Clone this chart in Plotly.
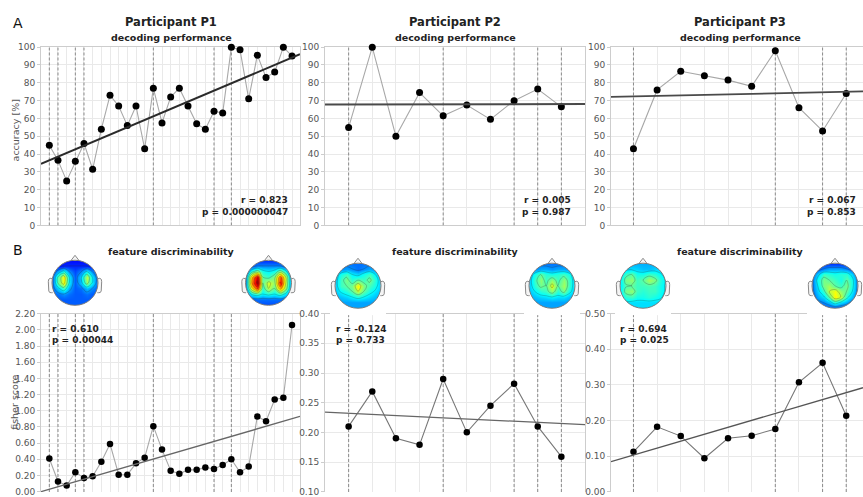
import numpy as np
import plotly.graph_objects as go

W, H = 863, 497
FONT = "DejaVu Sans"

# ---------------- data ----------------
p1_accuracy = [45, 36.5, 25, 36, 46, 31.5, 54, 73, 67, 56, 67, 43, 77, 57.5, 72,
               77, 67, 57, 54, 64, 63, 100, 98.5, 71, 95.5, 83, 86, 100, 95]
p2_accuracy = [55, 100, 50, 74.5, 61.5, 67.5, 59.5, 70, 76.5, 66.5]
p3_accuracy = [43, 76, 86.5, 84, 81.5, 78, 98, 66, 53, 74]

p1_fisher = [0.41, 0.125, 0.077, 0.24, 0.17, 0.19, 0.37, 0.59, 0.21, 0.21, 0.35, 0.42,
             0.81, 0.52, 0.26, 0.22, 0.27, 0.27, 0.30, 0.28, 0.33, 0.40, 0.24, 0.31,
             0.93, 0.87, 1.14, 1.16, 2.06]
p2_fisher = [0.21, 0.269, 0.19, 0.179, 0.29, 0.20, 0.245, 0.282, 0.21, 0.159]
p3_fisher = [0.112, 0.182, 0.156, 0.094, 0.150, 0.157, 0.176, 0.307, 0.362, 0.213]

p1_marked = [0, 1, 3, 4, 12, 19, 21]
p2_marked = [0, 4, 7, 8, 9]
p3_marked = [0, 6, 8, 9]

# regression line values at left / right edge of each panel
p1_acc_fit = [34.5, 96.0]
p2_acc_fit = [67.9, 68.1]
p3_acc_fit = [72.1, 75.2]
p1_fis_fit = [0.0, 0.93]
p2_fis_fit = [0.234, 0.213]
p3_fis_fit = [0.084, 0.292]

participants = ["Participant P1", "Participant P2", "Participant P3"]
acc_stats = [("r = 0.823", "p = 0.000000047"), ("r = 0.005", "p = 0.987"),
             ("r = 0.067", "p = 0.853")]
fis_stats = [("r = 0.610", "p = 0.00044"), ("r = -0.124", "p = 0.733"),
             ("r = 0.694", "p = 0.025")]

# topographic maps: 9x9 grids, first row = front of head, values on jet scale 0..1
topo_p1_first = [
    [0.12] * 9,
    [0.12, 0.13, 0.15, 0.15, 0.15, 0.15, 0.15, 0.13, 0.12],
    [0.15, 0.28, 0.38, 0.25, 0.18, 0.24, 0.35, 0.25, 0.15],
    [0.2, 0.45, 0.62, 0.35, 0.2, 0.32, 0.55, 0.35, 0.2],
    [0.2, 0.45, 0.6, 0.35, 0.2, 0.3, 0.5, 0.35, 0.2],
    [0.2, 0.32, 0.42, 0.28, 0.2, 0.22, 0.3, 0.25, 0.2],
    [0.2, 0.22, 0.25, 0.22, 0.2, 0.2, 0.22, 0.2, 0.2],
    [0.2] * 9,
    [0.2] * 9,
]
topo_p1_last = [
    [0.15] * 9,
    [0.15, 0.2, 0.25, 0.25, 0.25, 0.25, 0.25, 0.2, 0.15],
    [0.2, 0.4, 0.5, 0.38, 0.35, 0.38, 0.5, 0.38, 0.2],
    [0.25, 0.68, 0.92, 0.45, 0.42, 0.5, 0.8, 0.55, 0.25],
    [0.25, 0.72, 0.97, 0.45, 0.58, 0.5, 0.86, 0.55, 0.25],
    [0.25, 0.6, 0.8, 0.4, 0.55, 0.45, 0.7, 0.5, 0.25],
    [0.2, 0.35, 0.4, 0.35, 0.38, 0.35, 0.4, 0.33, 0.2],
    [0.18, 0.2, 0.22, 0.22, 0.22, 0.22, 0.22, 0.2, 0.18],
    [0.18] * 9,
]
topo_p2_first = [
    [0.22] * 9,
    [0.22, 0.25, 0.27, 0.25, 0.22, 0.25, 0.28, 0.25, 0.22],
    [0.28, 0.38, 0.42, 0.35, 0.32, 0.38, 0.42, 0.35, 0.28],
    [0.3, 0.42, 0.48, 0.4, 0.45, 0.42, 0.47, 0.4, 0.3],
    [0.3, 0.42, 0.45, 0.48, 0.62, 0.48, 0.42, 0.38, 0.3],
    [0.3, 0.36, 0.4, 0.45, 0.55, 0.45, 0.38, 0.34, 0.3],
    [0.28, 0.3, 0.32, 0.35, 0.38, 0.35, 0.32, 0.3, 0.28],
    [0.27] * 9,
    [0.27] * 9,
]
topo_p2_last = [
    [0.22] * 9,
    [0.22, 0.25, 0.28, 0.28, 0.26, 0.28, 0.28, 0.25, 0.22],
    [0.28, 0.38, 0.45, 0.4, 0.38, 0.4, 0.42, 0.38, 0.28],
    [0.3, 0.42, 0.5, 0.42, 0.5, 0.42, 0.5, 0.42, 0.3],
    [0.3, 0.4, 0.47, 0.45, 0.58, 0.45, 0.52, 0.42, 0.3],
    [0.3, 0.35, 0.4, 0.42, 0.5, 0.4, 0.48, 0.38, 0.3],
    [0.28, 0.3, 0.32, 0.33, 0.35, 0.33, 0.33, 0.3, 0.28],
    [0.27] * 9,
    [0.27] * 9,
]
topo_p3_first = [
    [0.28] * 9,
    [0.3, 0.32, 0.33, 0.32, 0.3, 0.3, 0.32, 0.32, 0.3],
    [0.33, 0.42, 0.45, 0.38, 0.38, 0.42, 0.4, 0.36, 0.33],
    [0.34, 0.48, 0.5, 0.42, 0.45, 0.52, 0.48, 0.4, 0.34],
    [0.34, 0.44, 0.45, 0.42, 0.42, 0.43, 0.42, 0.38, 0.34],
    [0.34, 0.48, 0.5, 0.42, 0.4, 0.42, 0.42, 0.38, 0.34],
    [0.33, 0.4, 0.42, 0.38, 0.38, 0.4, 0.38, 0.36, 0.33],
    [0.33] * 9,
    [0.33] * 9,
]
topo_p3_last = [
    [0.15] * 9,
    [0.15, 0.2, 0.25, 0.28, 0.28, 0.28, 0.25, 0.2, 0.15],
    [0.2, 0.32, 0.42, 0.4, 0.38, 0.4, 0.4, 0.32, 0.2],
    [0.22, 0.38, 0.48, 0.45, 0.42, 0.38, 0.45, 0.38, 0.22],
    [0.22, 0.35, 0.48, 0.52, 0.45, 0.42, 0.48, 0.38, 0.22],
    [0.22, 0.32, 0.42, 0.55, 0.6, 0.5, 0.45, 0.35, 0.22],
    [0.2, 0.28, 0.33, 0.45, 0.62, 0.55, 0.38, 0.3, 0.2],
    [0.18, 0.22, 0.25, 0.3, 0.4, 0.33, 0.28, 0.22, 0.18],
    [0.18] * 9,
]

# ---------------- helpers ----------------
def px_x(v):
    return v / W


def px_y(v):
    return 1 - v / H


def dom_y(top, bottom):
    return [max(0.0, px_y(bottom)), min(1.0, px_y(top))]


JET = [[0, 'rgb(0,0,143)'], [0.11, 'rgb(0,0,255)'], [0.36, 'rgb(0,255,255)'],
       [0.61, 'rgb(255,255,0)'], [0.86, 'rgb(255,0,0)'], [1, 'rgb(128,0,0)']]

fig = go.Figure()
layout = dict(width=W, height=H, margin=dict(l=0, r=0, t=0, b=0),
              paper_bgcolor='white', plot_bgcolor='white', showlegend=False,
              font=dict(family=FONT, color='#333'))
shapes = []
annotations = []

col_x = [(41, 300), (325, 585), (611, 863)]
col_range = [(-0.96, 28.92), (-1.0, 10.0), (-0.95, 9.71)]
col_center = [171, 455, 740]
mirror_y = [True, True, False]

panels = [
    # (axis n, col, row, values, marked, fit, yrange, dtick, fmt, linecolor, fitcolor, fitwidth)
    (1, 0, 0, p1_accuracy, p1_marked, p1_acc_fit, [0, 100], 10, 'd', '#a8a8a8', '#2a2a2a', 2.0),
    (2, 1, 0, p2_accuracy, p2_marked, p2_acc_fit, [0, 100], 10, 'd', '#a8a8a8', '#4a4a4a', 2.0),
    (3, 2, 0, p3_accuracy, p3_marked, p3_acc_fit, [0, 100], 10, 'd', '#a8a8a8', '#4a4a4a', 1.8),
    (4, 0, 1, p1_fisher, p1_marked, p1_fis_fit, [-0.004, 2.2], 0.2, '.2f', '#a8a8a8', '#666', 1.3),
    (5, 1, 1, p2_fisher, p2_marked, p2_fis_fit, [0.0995, 0.4], 0.05, '.2f', '#777', '#666', 1.3),
    (6, 2, 1, p3_fisher, p3_marked, p3_fis_fit, [-0.001, 0.5], 0.1, '.2f', '#777', '#555', 1.3),
]

for n, col, row, vals, marked, fit, yr, dt, fmt, lc, fc, fw in panels:
    xa = 'x' if n == 1 else f'x{n}'
    ya = 'y' if n == 1 else f'y{n}'
    xk = 'xaxis' if n == 1 else f'xaxis{n}'
    yk = 'yaxis' if n == 1 else f'yaxis{n}'
    x0, x1 = col_x[col]
    ydom = dom_y(43, 225) if row == 0 else dom_y(315, 497)
    layout[xk] = dict(domain=[px_x(x0), px_x(x1)], range=list(col_range[col]),
                      anchor=ya, showticklabels=False, ticks='', dtick=1, tick0=0,
                      showgrid=True, gridcolor='#e9e9e9', gridwidth=1, zeroline=False,
                      showline=True, linecolor='#cdcdcd', linewidth=1,
                      mirror=(row == 0), side='bottom' if row == 0 else 'top',
                      layer='below traces', fixedrange=True)
    layout[yk] = dict(domain=ydom, range=yr, anchor=xa, dtick=dt, tick0=0,
                      tickformat=fmt, showgrid=True, gridcolor='#e9e9e9',
                      zeroline=False, showline=True, linecolor='#cdcdcd',
                      mirror=mirror_y[col], ticks='outside', ticklen=3,
                      tickcolor='#cdcdcd', tickfont=dict(family=FONT, size=9, color='#555'),
                      layer='below traces', fixedrange=True)
    # dashed session markers
    for mk in marked:
        fig.add_trace(go.Scatter(x=[mk, mk], y=yr, xaxis=xa, yaxis=ya, mode='lines',
                                 line=dict(color='#8a8a8a', width=1, dash='3px,2px'),
                                 hoverinfo='skip'))
    xs = list(range(len(vals)))
    fig.add_trace(go.Scatter(x=xs, y=vals, xaxis=xa, yaxis=ya, mode='lines+markers',
                             line=dict(color=lc, width=1.1),
                             marker=dict(color='black', size=7 if row == 0 else 6.5),
                             hoverinfo='skip', cliponaxis=False))
    fig.add_trace(go.Scatter(x=list(col_range[col]), y=fit, xaxis=xa, yaxis=ya,
                             mode='lines', line=dict(color=fc, width=fw),
                             hoverinfo='skip'))

# titles and texts
for col in range(3):
    cx = px_x(col_center[col])
    annotations.append(dict(text=f"<b>{participants[col]}</b>", x=cx, y=px_y(17.5),
                            xref='paper', yref='paper', showarrow=False,
                            xanchor='center', yanchor='middle',
                            font=dict(family=FONT, size=11.5, color='#222')))
    annotations.append(dict(text="<b>decoding performance</b>", x=cx, y=px_y(33),
                            xref='paper', yref='paper', showarrow=False,
                            xanchor='center', yanchor='middle',
                            font=dict(family=FONT, size=9.5, color='#222')))
    annotations.append(dict(text="<b>feature discriminability</b>", x=cx, y=px_y(252),
                            xref='paper', yref='paper', showarrow=False,
                            xanchor='center', yanchor='middle',
                            font=dict(family=FONT, size=9.5, color='#222')))

acc_right = [289.5, 573, 858]
fis_left = [50, 334, 618]
for col in range(3):
    for k, yy in enumerate([199, 211]):
        annotations.append(dict(text=f"<b>{acc_stats[col][k]}</b>", x=px_x(acc_right[col]),
                                y=px_y(yy), xref='paper', yref='paper', showarrow=False,
                                xanchor='right', yanchor='middle',
                                font=dict(family=FONT, size=9, color='#222')))
    for k, yy in enumerate([331, 342]):
        annotations.append(dict(text=f"<b>{fis_stats[col][k]}</b>", x=px_x(fis_left[col]),
                                y=px_y(yy), xref='paper', yref='paper', showarrow=False,
                                xanchor='left', yanchor='middle',
                                font=dict(family=FONT, size=9, color='#222')))

annotations.append(dict(text="A", x=px_x(11), y=px_y(18), xref='paper', yref='paper',
                        showarrow=False, xanchor='left', yanchor='middle',
                        font=dict(family=FONT, size=14, color='#111')))
annotations.append(dict(text="B", x=px_x(11), y=px_y(250.5), xref='paper', yref='paper',
                        showarrow=False, xanchor='left', yanchor='middle',
                        font=dict(family=FONT, size=14, color='#111')))
annotations.append(dict(text="accuracy [%]", x=px_x(15), y=px_y(128), xref='paper',
                        yref='paper', showarrow=False, textangle=-90,
                        xanchor='center', yanchor='middle',
                        font=dict(family=FONT, size=9.5, color='#555')))
annotations.append(dict(text="fisher score", x=px_x(15), y=px_y(406), xref='paper',
                        yref='paper', showarrow=False, textangle=-90,
                        xanchor='center', yanchor='middle',
                        font=dict(family=FONT, size=9.5, color='#555')))

# ---------------- topographic heads ----------------
heads = [
    (7, 75, 283.5, topo_p1_first), (8, 268.5, 283.5, topo_p1_last),
    (9, 358, 286.5, topo_p2_first), (10, 552, 286.5, topo_p2_last),
    (11, 643, 286.5, topo_p3_first), (12, 835, 286.5, topo_p3_last),
]
UNIT = 23.0   # pixels per head radius
HX, HY = 28, 30
grid = np.linspace(-1, 1, 9)
theta = np.linspace(0, 2 * np.pi, 90)
circ = " L".join(f"{np.cos(t):.4f},{np.sin(t):.4f}" for t in theta)
m = 1.06
mask_path = f"M{-m},{-m} L{m},{-m} L{m},{m} L{-m},{m} Z M{circ} Z"

for n, cx, cy, z in heads:
    xa, ya = f'x{n}', f'y{n}'
    layout[f'xaxis{n}'] = dict(domain=[px_x(cx - HX), min(1.0, px_x(cx + HX))],
                               range=[-HX / UNIT, HX / UNIT], anchor=ya, visible=False,
                               fixedrange=True)
    layout[f'yaxis{n}'] = dict(domain=dom_y(cy - HY, cy + HY),
                               range=[-HY / UNIT, HY / UNIT], anchor=xa, visible=False,
                               fixedrange=True)
    fig.add_trace(go.Contour(x=grid, y=grid, z=z[::-1], xaxis=xa, yaxis=ya,
                             colorscale=JET, zmin=0, zmax=1, showscale=False,
                             contours=dict(start=0.15, end=0.95, size=0.1,
                                           coloring='heatmap', showlines=True),
                             line=dict(color='rgba(40,40,40,0.5)', width=0.5),
                             hoverinfo='skip'))
    shapes.append(dict(type='path', xref=xa, yref=ya, path=mask_path,
                       fillcolor='white', fillrule='evenodd', line=dict(width=0),
                       layer='above'))
    for s in (-1, 1):
        ear = (f"M{s*0.99},0.18 L{s*1.08},0.2 Q{s*1.17},0.18 {s*1.16},0.05 "
               f"L{s*1.14},-0.36 Q{s*1.12},-0.46 {s*1.02},-0.44 L{s*0.97},-0.44")
        shapes.append(dict(type='path', xref=xa, yref=ya, path=ear,
                           fillcolor='#f4f4f4', line=dict(color='#8a8a8a', width=1),
                           layer='above'))
    shapes.append(dict(type='path', xref=xa, yref=ya,
                       path="M-0.18,0.982 L0,1.22 L0.18,0.982",
                       fillcolor='#f4f4f4', line=dict(color='#8a8a8a', width=1),
                       layer='above'))
    shapes.append(dict(type='circle', xref=xa, yref=ya, x0=-1, x1=1, y0=-1, y1=1,
                       line=dict(color='#7a7a7a', width=1), layer='above'))

layout['shapes'] = shapes
layout['annotations'] = annotations
fig.update_layout(**layout)
fig.write_html("out.html")
